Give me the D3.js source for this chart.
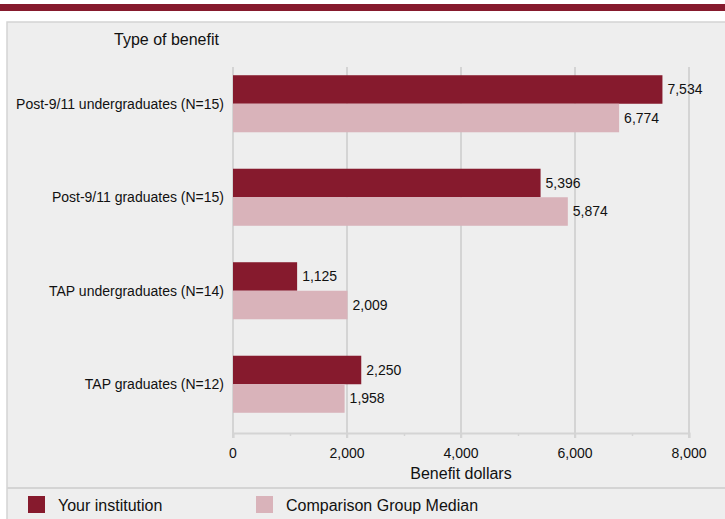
<!DOCTYPE html>
<html>
<head>
<meta charset="utf-8">
<script src="https://cdn.jsdelivr.net/npm/d3@7"></script>
<style>
  body { margin: 0; background: #fff; }
  text { font-family: "Liberation Sans", Arial, sans-serif; fill: #111; }
</style>
</head>
<body>
<svg width="725" height="519"></svg>
<script>
var categories = ["Post-9/11 undergraduates (N=15)", "Post-9/11 graduates (N=15)", "TAP undergraduates (N=14)", "TAP graduates (N=12)"];
var series = ["Your institution", "Comparison Group Median"];
var yourValues = [7534, 5396, 1125, 2250];
var medianValues = [6774, 5874, 2009, 1958];
var xTicks = [0, 2000, 4000, 6000, 8000];
var colors = ["#861a2d", "#d9b3ba"];

var svg = d3.select("svg");
var fmt = d3.format(",");

// top band and panel
svg.append("rect").attr("x", 0).attr("y", 4).attr("width", 725).attr("height", 7).attr("fill", "#861a2d");
svg.append("rect").attr("x", 7).attr("y", 22).attr("width", 730).attr("height", 510)
    .attr("fill", "#eeeeee").attr("stroke", "#d4d4d4").attr("stroke-width", 1.5);
svg.append("line").attr("x1", 7).attr("x2", 725).attr("y1", 488).attr("y2", 488)
    .attr("stroke", "#d4d4d4").attr("stroke-width", 2);

var x = d3.scaleLinear().domain([0, 8000]).range([233, 689]);
var y0 = d3.scaleBand().domain(categories).range([57, 431]).paddingInner(0.39).paddingOuter(0.195);
var y1 = d3.scaleBand().domain(series).range([0, y0.bandwidth()]);

var plotTop = 67, plotBottom = 433;

// gridlines
svg.append("g").selectAll("line").data(xTicks).enter().append("line")
    .attr("x1", function(d) { return x(d); }).attr("x2", function(d) { return x(d); })
    .attr("y1", plotTop).attr("y2", plotBottom + 5)
    .attr("stroke", "#d4d4d4").attr("stroke-width", 2);

// axis
var axis = svg.append("g").attr("transform", "translate(0," + plotBottom + ")")
    .call(d3.axisBottom(x).tickValues(d3.range(0, 8001, 1000)).tickSize(5).tickFormat(""));
axis.select(".domain").attr("stroke", "#d4d4d4").attr("stroke-width", 2);
axis.selectAll(".tick line").attr("stroke", "#d4d4d4").attr("stroke-width", 1.5)
    .attr("y2", function(d) { return d % 2000 === 0 ? 5 : 3; });

svg.append("g").selectAll("text").data(xTicks).enter().append("text")
    .attr("x", function(d) { return x(d); }).attr("y", 458)
    .attr("text-anchor", "middle").style("font-size", "14px")
    .text(function(d) { return fmt(d); });

svg.append("text").attr("x", 461).attr("y", 479).attr("text-anchor", "middle")
    .style("font-size", "16px").text("Benefit dollars");
svg.append("text").attr("x", 114).attr("y", 45).style("font-size", "16px").text("Type of benefit");

// bars
var rows = categories.map(function(c, i) { return { cat: c, vals: [yourValues[i], medianValues[i]] }; });

var grp = svg.append("g").selectAll("g").data(rows).enter().append("g")
    .attr("transform", function(d) { return "translate(0," + y0(d.cat) + ")"; });

grp.append("text").attr("x", 224).attr("y", y0.bandwidth() / 2 + 5)
    .attr("text-anchor", "end").style("font-size", "14px")
    .text(function(d) { return d.cat; });

grp.selectAll("rect").data(function(d) { return d.vals; }).enter().append("rect")
    .attr("x", x(0))
    .attr("y", function(d, i) { return y1(series[i]); })
    .attr("width", function(d) { return x(d) - x(0); })
    .attr("height", y1.bandwidth())
    .attr("fill", function(d, i) { return colors[i]; });

grp.selectAll("text.val").data(function(d) { return d.vals; }).enter().append("text")
    .attr("class", "val")
    .attr("x", function(d) { return x(d) + 5; })
    .attr("y", function(d, i) { return y1(series[i]) + y1.bandwidth() / 2 + 5; })
    .style("font-size", "14px")
    .text(function(d) { return fmt(d); });

// legend
var leg = svg.append("g").selectAll("g").data(series).enter().append("g")
    .attr("transform", function(d, i) { return "translate(" + (i === 0 ? 28 : 256) + ",496)"; });
leg.append("rect").attr("width", 17).attr("height", 17)
    .attr("fill", function(d, i) { return colors[i]; });
leg.append("text").attr("x", 30).attr("y", 15).style("font-size", "16px").text(function(d) { return d; });
</script>
</body>
</html>
